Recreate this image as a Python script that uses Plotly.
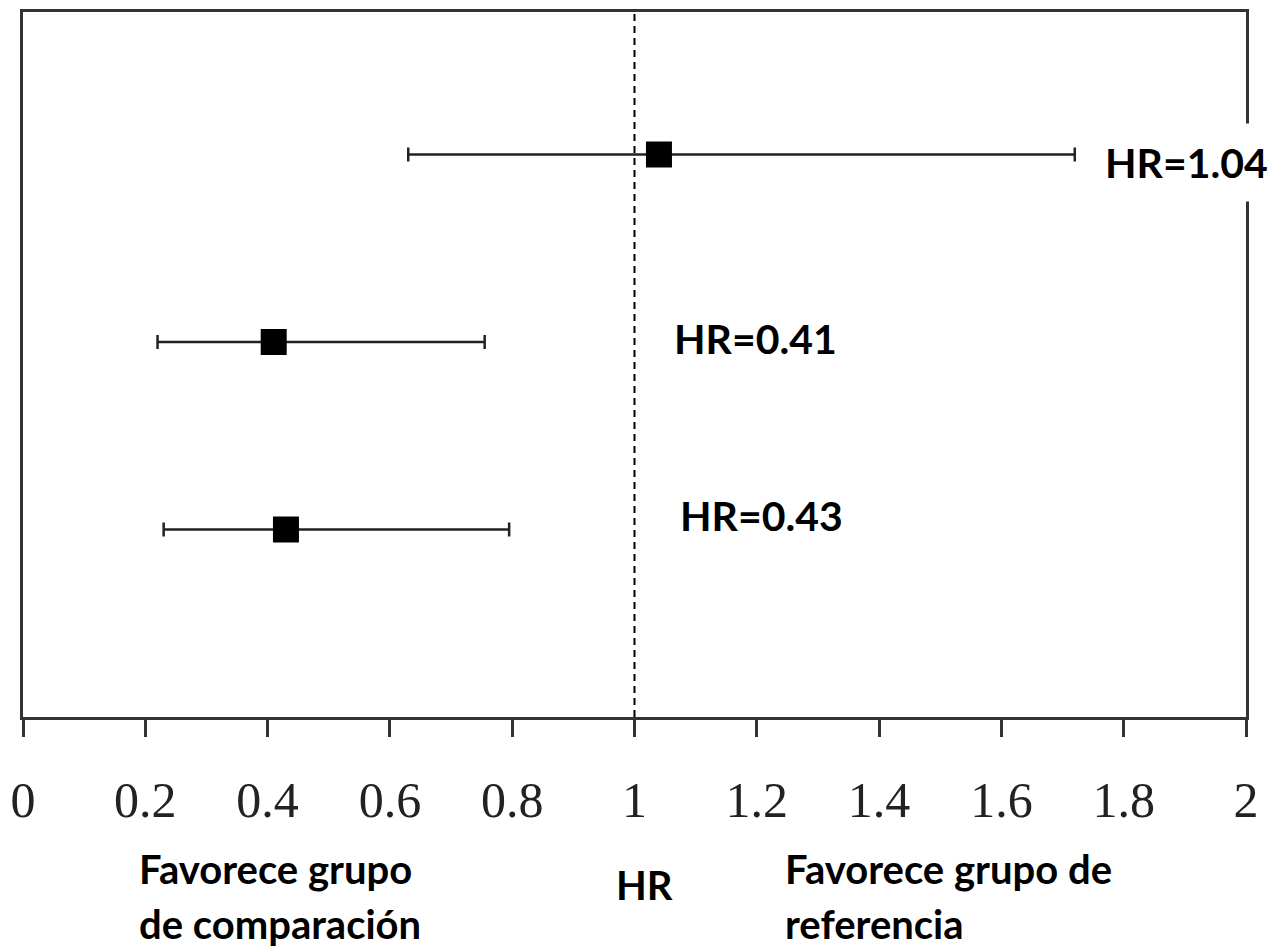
import plotly.graph_objects as go

# Hazard ratios with 95% confidence intervals, one row per comparison
rows = [3, 2, 1]
hr = [1.04, 0.41, 0.43]
ci_low = [0.63, 0.22, 0.23]
ci_high = [1.72, 0.755, 0.795]
hr_labels = ["HR=1.04", "HR=0.41", "HR=0.43"]
label_x = [1.745, 1.04, 1.05]
label_y = [2.955, 2.02, 1.075]

tick_vals = [0, 0.2, 0.4, 0.6, 0.8, 1, 1.2, 1.4, 1.6, 1.8, 2]
tick_text = ["0", "0.2", "0.4", "0.6", "0.8", "1", "1.2", "1.4", "1.6", "1.8", "2"]

# Explanatory captions under the axis: (text, x, paper y, anchor)
captions = [
    ("Favorece grupo", 0.186, -0.216, "left"),
    ("de comparación", 0.186, -0.294, "left"),
    ("HR", 1.017, -0.238, "center"),
    ("Favorece grupo de", 1.243, -0.216, "left"),
    ("referencia", 1.243, -0.294, "left"),
]

LABEL_FONT = "Lato, 'Open Sans', sans-serif"
PAD = 14

fig = go.Figure()

fig.add_trace(go.Scatter(
    x=hr,
    y=rows,
    mode="markers",
    marker=dict(symbol="square", size=26, color="black"),
    error_x=dict(
        type="data",
        symmetric=False,
        array=[h - v for h, v in zip(ci_high, hr)],
        arrayminus=[v - l for v, l in zip(hr, ci_low)],
        color="#222222",
        thickness=2.5,
        width=7,
    ),
    showlegend=False,
    hoverinfo="skip",
))

# Line of no effect
fig.add_shape(type="line", x0=1, x1=1, y0=0, y1=1, xref="x", yref="paper",
              line=dict(color="black", width=2, dash="7px,5px"))

annotations = []
for i, txt in enumerate(hr_labels):
    annotations.append(dict(
        x=label_x[i], y=label_y[i], xref="x", yref="y",
        text=f"<b>{txt}</b>", showarrow=False,
        xanchor="left", yanchor="middle",
        font=dict(family=LABEL_FONT, size=41, color="black", weight=900),
        bgcolor="white" if i == 0 else "rgba(0,0,0,0)",
        borderpad=PAD,
    ))

for txt, cx, cy, anchor in captions:
    annotations.append(dict(
        x=cx, y=cy, xref="x", yref="paper",
        text=f"<b>{txt}</b>", showarrow=False,
        xanchor=anchor, yanchor="middle", align="left",
        font=dict(family=LABEL_FONT, size=40, color="black", weight=900),
    ))

fig.update_layout(
    width=1278,
    height=952,
    margin=dict(l=23, r=32, t=9, b=235),
    paper_bgcolor="white",
    plot_bgcolor="white",
    annotations=annotations,
)

fig.update_xaxes(
    range=[0, 2],
    tickvals=tick_vals,
    ticktext=tick_text,
    ticks="outside",
    ticklen=17,
    tickwidth=3,
    tickcolor="#333333",
    showline=True,
    linecolor="#333333",
    linewidth=3,
    mirror=True,
    showgrid=False,
    zeroline=False,
    tickfont=dict(family="'Liberation Serif', 'Times New Roman', serif", size=50, color="#222222"),
    ticklabelstandoff=20,
)

fig.update_yaxes(
    range=[0, 3.76],
    showticklabels=False,
    ticks="",
    showline=True,
    linecolor="#333333",
    linewidth=3,
    mirror=True,
    showgrid=False,
    zeroline=False,
)

fig.write_html("out.html")
